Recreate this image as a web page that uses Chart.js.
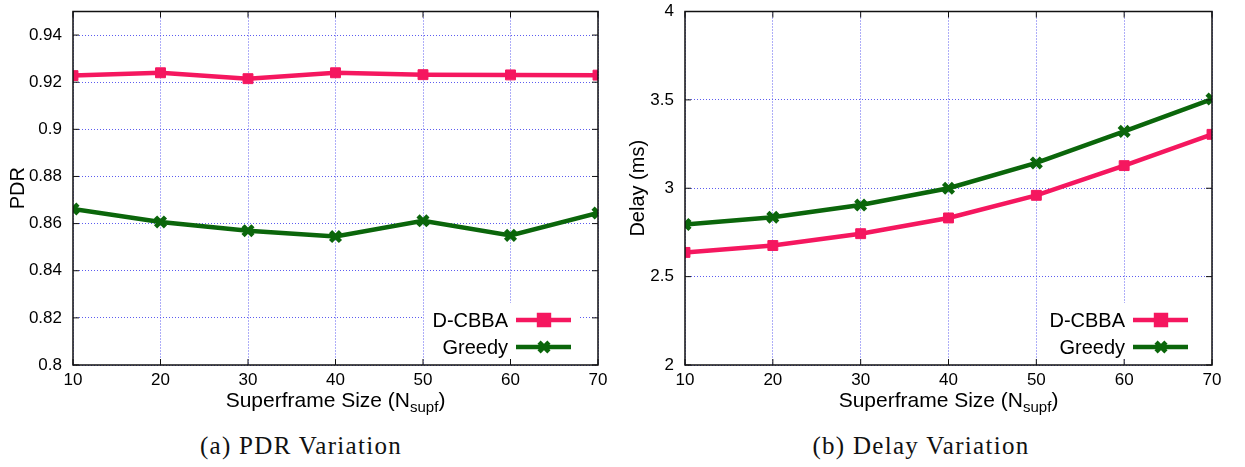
<!DOCTYPE html>
<html>
<head>
<meta charset="utf-8">
<script src="https://cdn.jsdelivr.net/npm/chart.js@4.4.1/dist/chart.umd.min.js"></script>
<style>
  html, body { margin: 0; padding: 0; background: #fff; }
  #wrap { position: relative; width: 1245px; height: 467px; overflow: hidden; }
  .panel { position: absolute; top: 0; height: 422px; }
  #p1 { left: 0; width: 620px; }
  #p2 { left: 620px; width: 625px; }
  .caption {
    position: absolute; top: 432px; width: 400px; text-align: center;
    font-family: "Liberation Serif", "DejaVu Serif", serif; font-size: 25px;
    letter-spacing: 1.3px; color: #111;
  }
</style>
</head>
<body>
<div id="wrap">
  <div class="panel" id="p1"><canvas id="pdr-chart"></canvas></div>
  <div class="panel" id="p2"><canvas id="delay-chart"></canvas></div>
  <div class="caption" style="left:101px">(a) PDR Variation</div>
  <div class="caption" style="left:721px">(b) Delay Variation</div>
</div>
<script>
// ---- DATA ----
const SUPERFRAME = [10, 20, 30, 40, 50, 60, 70];
const SERIES_NAMES = ['D-CBBA', 'Greedy'];

const PDR_DCBBA  = [0.9228, 0.924, 0.9215, 0.924, 0.9232, 0.9231, 0.923];
const PDR_GREEDY = [0.8662, 0.8607, 0.857, 0.8545, 0.8612, 0.855, 0.8645];
const PDR_TICKS  = [0.8, 0.82, 0.84, 0.86, 0.88, 0.9, 0.92, 0.94];

const DELAY_DCBBA  = [2.637, 2.676, 2.743, 2.832, 2.96, 3.128, 3.305];
const DELAY_GREEDY = [2.795, 2.836, 2.905, 3.0, 3.143, 3.322, 3.505];
const DELAY_TICKS  = [2, 2.5, 3, 3.5, 4];

// ---- STYLE ----
const PINK = '#f5175f';
const GREEN = '#0b660b';
const GRID_BLUE = '#5c5cf0';
const SANS = "'Liberation Sans', Arial, sans-serif";

const toPoints = (vals) => SUPERFRAME.map((x, i) => ({ x, y: vals[i] }));

// frame, inward ticks, opaque key and subscripted x title (gnuplot look)
const gnuplotDecor = {
  id: 'gnuplotDecor',
  afterDatasetsDraw(chart, args, opts) {
    const c = chart.ctx;
    const a = chart.chartArea;
    const xs = chart.scales.x, ys = chart.scales.y;
    c.save();

    // key box
    const kr = a.right - opts.keyRight;
    c.fillStyle = '#fff';
    c.fillRect(kr - 84, a.bottom - 62, 156, 56);
    c.font = '20px ' + SANS;
    c.textAlign = 'right';
    c.textBaseline = 'middle';
    chart.data.datasets.forEach((ds, i) => {
      const y = a.bottom - 45 + i * 27;
      c.fillStyle = '#000';
      c.fillText(ds.label, kr, y + 1);
      c.strokeStyle = ds.borderColor;
      c.lineWidth = 4.5;
      c.beginPath();
      c.moveTo(kr + 8, y);
      c.lineTo(kr + 63, y);
      c.stroke();
      c.fillStyle = ds.borderColor;
      Chart.helpers.drawPoint(c, {
        pointStyle: ds.pointStyle, radius: ds.pointRadius,
        borderWidth: ds.pointBorderWidth, rotation: 0
      }, kr + 36, y);
    });

    // frame
    c.strokeStyle = '#111';
    c.lineWidth = 1.5;
    c.strokeRect(a.left, a.top, a.right - a.left, a.bottom - a.top);

    // inward ticks on all four sides
    c.lineWidth = 1;
    const tl = 6;
    xs.ticks.forEach(t => {
      const px = xs.getPixelForValue(t.value);
      c.beginPath();
      c.moveTo(px, a.bottom); c.lineTo(px, a.bottom - tl);
      c.moveTo(px, a.top); c.lineTo(px, a.top + tl);
      c.stroke();
    });
    ys.ticks.forEach(t => {
      const py = ys.getPixelForValue(t.value);
      c.beginPath();
      c.moveTo(a.left, py); c.lineTo(a.left + tl, py);
      c.moveTo(a.right, py); c.lineTo(a.right - tl, py);
      c.stroke();
    });

    // x title with subscript
    const main = 'Superframe Size (N';
    const sub = 'supf';
    const tail = ')';
    c.fillStyle = '#000';
    c.textAlign = 'left';
    c.textBaseline = 'alphabetic';
    c.font = '21px ' + SANS;
    const w1 = c.measureText(main).width;
    const w3 = c.measureText(tail).width;
    c.font = '15px ' + SANS;
    const w2 = c.measureText(sub).width;
    const total = w1 + w2 + w3;
    const x0 = (a.left + a.right) / 2 - total / 2;
    const base = 407;
    c.font = '21px ' + SANS;
    c.fillText(main, x0, base);
    c.font = '15px ' + SANS;
    c.fillText(sub, x0 + w1, base + 5);
    c.font = '21px ' + SANS;
    c.fillText(tail, x0 + w1 + w2, base);

    c.restore();
  }
};

function makeChart(canvasId, yTitle, dcbba, greedy, yMin, yMax, yTicks, yAxisWidth, padRight, keyRight) {
  const canvas = document.getElementById(canvasId);
  const ctx = canvas.getContext('2d');
  return new Chart(ctx, {
    type: 'line',
    data: {
      datasets: [{
        label: SERIES_NAMES[0],
        data: toPoints(dcbba),
        borderColor: PINK,
        backgroundColor: PINK,
        borderWidth: 4.5,
        pointStyle: 'rect',
        pointRadius: 7,
        pointBorderWidth: 1,
        pointBackgroundColor: PINK,
        pointBorderColor: PINK,
        tension: 0,
      }, {
        label: SERIES_NAMES[1],
        data: toPoints(greedy),
        borderColor: GREEN,
        backgroundColor: GREEN,
        borderWidth: 4.5,
        pointStyle: 'crossRot',
        pointRadius: 7,
        pointBorderWidth: 4.5,
        pointBorderColor: GREEN,
        tension: 0,
      }],
    },
    options: {
      responsive: true,
      maintainAspectRatio: false,
      animation: false,
      layout: { padding: { top: 5, right: padRight, left: 0, bottom: 0 } },
      plugins: {
        legend: { display: false },
        tooltip: { enabled: false },
        gnuplotDecor: { keyRight },
      },
      scales: {
        x: {
          type: 'linear',
          min: 10,
          max: 70,
          afterFit(axis) {
            axis.height = 57;
            axis.paddingLeft = 0;
            axis.paddingRight = 0;
          },
          afterBuildTicks(axis) { axis.ticks = SUPERFRAME.map(v => ({ value: v })); },
          grid: { color: GRID_BLUE, lineWidth: 1, drawTicks: false },
          border: { display: false, dash: [1, 2] },
          ticks: { color: '#000', font: { family: SANS, size: 17 }, padding: 5, maxRotation: 0 },
        },
        y: {
          min: yMin,
          max: yMax,
          afterFit(axis) {
            axis.width = yAxisWidth;
            axis.paddingTop = 0;
            axis.paddingBottom = 0;
          },
          afterBuildTicks(axis) { axis.ticks = yTicks.map(v => ({ value: v })); },
          grid: { color: GRID_BLUE, lineWidth: 1, drawTicks: false },
          border: { display: false, dash: [1, 2] },
          ticks: {
            color: '#000', font: { family: SANS, size: 17 }, padding: 11,
            callback(v) { return String(+v.toFixed(2)); },
          },
          title: {
            display: true, text: yTitle, color: '#000',
            font: { family: SANS, size: 20 }, padding: { top: 6, bottom: 0 },
          },
        },
      },
    },
    plugins: [gnuplotDecor],
  });
}

(function boot() {
  Chart.defaults.font.family = SANS;
  makeChart('pdr-chart', 'PDR', PDR_DCBBA, PDR_GREEDY, 0.8, 0.95, PDR_TICKS, 73, 22, 90);
  makeChart('delay-chart', 'Delay (ms)', DELAY_DCBBA, DELAY_GREEDY, 2, 4, DELAY_TICKS, 65, 33, 87);
})();
</script>
</body>
</html>
